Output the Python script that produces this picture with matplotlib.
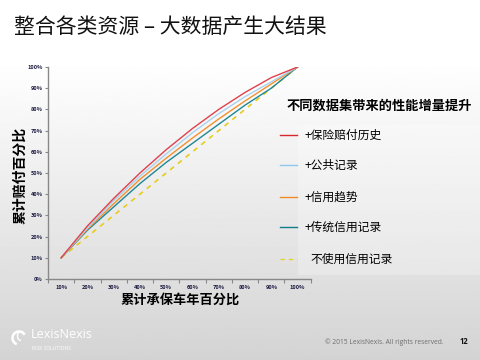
import numpy as np
import matplotlib
matplotlib.use("Agg")
import matplotlib.pyplot as plt
from matplotlib.patches import Rectangle, Arc

plt.rcParams['font.family'] = ['Noto Sans CJK SC', 'DejaVu Sans']

# data
x_labels = ['10%', '20%', '30%', '40%', '50%', '60%', '70%', '80%', '90%', '100%']
claims_history = [10, 25, 38, 50, 61, 71, 80, 88, 95, 100]
public_records = [10, 24, 37, 48.5, 59, 69, 78, 86, 93, 100]
credit_trend = [10, 23.5, 35.5, 47, 57, 66.5, 75.5, 84, 92, 100]
trad_credit = [10, 23, 34, 45, 55, 64, 73, 82, 90, 100]
no_credit = [10, 20, 30, 40, 50, 60, 70, 80, 90, 100]
y_ticks = [0, 10, 20, 30, 40, 50, 60, 70, 80, 90, 100]

series = [claims_history, public_records, credit_trend, trad_credit, no_credit]
labels = ['+保险赔付历史', '+公共记录', '+信用趋势', '+传统信用记录', '不使用信用记录']
line_colors = ['#E0414C', '#A9D1EE', '#F39030', '#1F8794', '#E6CC20']
legend_colors = ['#D9262B', '#8FC8EE', '#F08A24', '#127C8A', '#E6D22B']
styles = ['-', '-', '-', '-', (0, (3, 3))]

fig = plt.figure(figsize=(4.8, 3.6), dpi=100)

# slide background, pixel coordinates
bg = fig.add_axes([0, 0, 1, 1])
bg.set_xlim(0, 480)
bg.set_ylim(360, 0)
bg.axis('off')
rows = np.linspace(0, 360, 200)
shade = np.clip(1 - (rows - 60) / 300 * 0.17, 0.83, 1.0)
bg.imshow(np.repeat(shade[:, None], 2, axis=1), extent=[0, 480, 360, 0], aspect='auto',
          cmap='gray', vmin=0, vmax=1, zorder=0)

bg.text(14, 27, '整合各类资源 – 大数据产生大结果', fontsize=15, va='center', ha='left',
        color='#111111', fontweight='light')

# chart
ax = fig.add_axes([48 / 480, 1 - 279 / 360, (310.7 - 48) / 480, (279 - 67) / 360])
ax.patch.set_alpha(0)
xs = np.arange(len(x_labels))
order = [4, 3, 2, 1, 0]
for i in order:
    ax.plot(xs, series[i], color=line_colors[i], lw=1.2 if i == 4 else 1.0, linestyle=styles[i])

ax.set_xlim(-0.5, len(x_labels) - 0.5)
ax.set_ylim(0, 100)
ax.set_xticks(xs)
ax.set_xticklabels(x_labels)
ax.set_xticks(np.arange(-0.5, len(x_labels)), minor=True)
ax.tick_params(axis='x', which='major', length=0, pad=4, labelsize=4, labelcolor='#1a1a40')
ax.tick_params(axis='x', which='minor', length=3, color='#888888', width=0.8)
ax.set_yticks(y_ticks)
ax.set_yticklabels([f'{v}%' for v in y_ticks])
ax.tick_params(axis='y', length=2, color='#888888', width=0.8, pad=2, labelsize=4, labelcolor='#1a1a40')
for lab in ax.get_xticklabels() + ax.get_yticklabels():
    lab.set_fontweight('bold')
for s in ['top', 'right']:
    ax.spines[s].set_visible(False)
for s in ['left', 'bottom']:
    ax.spines[s].set_color('#888888')
    ax.spines[s].set_linewidth(1.0)

bg.text(20, 175, '累计赔付百分比', rotation=90, fontsize=10, fontweight='bold', ha='center', va='center')
bg.text(180, 300, '累计承保车年百分比', fontsize=9.5, fontweight='bold', ha='center', va='center')

# legend
bg.add_patch(Rectangle((298, 125), 182, 150, color='white', alpha=0.25, lw=0, zorder=1))
bg.text(287, 106, '不同数据集带来的性能增量提升', fontsize=9.5, fontweight='bold', ha='left', va='center')
leg_y = [135, 165, 197, 227, 259]
for i, lab in enumerate(labels):
    bg.plot([280, 297], [leg_y[i], leg_y[i]], color=legend_colors[i], lw=1.0, linestyle=styles[i], zorder=2)
    bg.text(305 if lab.startswith('+') else 310, leg_y[i], lab, fontsize=8.5, ha='left', va='center', zorder=2)

# footer
bg.add_patch(Arc((19, 338), 13, 13, theta1=110, theta2=330, color='white', lw=1.8, zorder=2))
bg.add_patch(Arc((21, 336), 7, 9, theta1=90, theta2=300, color='white', lw=1.0, zorder=2))
bg.text(31, 335, 'LexisNexis', fontsize=9, color='white', ha='left', va='center', family='Open Sans')
bg.text(32, 348, 'RISK SOLUTIONS', fontsize=3.6, color='white', ha='left', va='center', family='Open Sans')
bg.text(325, 342, '© 2015 LexisNexis. All rights reserved.', fontsize=4.8, color='#6e6e6e',
        ha='left', va='center', family='Open Sans')
bg.text(460, 342, '12', fontsize=5.5, fontweight='bold', color='#111111', ha='left', va='center', family='Open Sans')

fig.savefig('out.png', dpi=100)
